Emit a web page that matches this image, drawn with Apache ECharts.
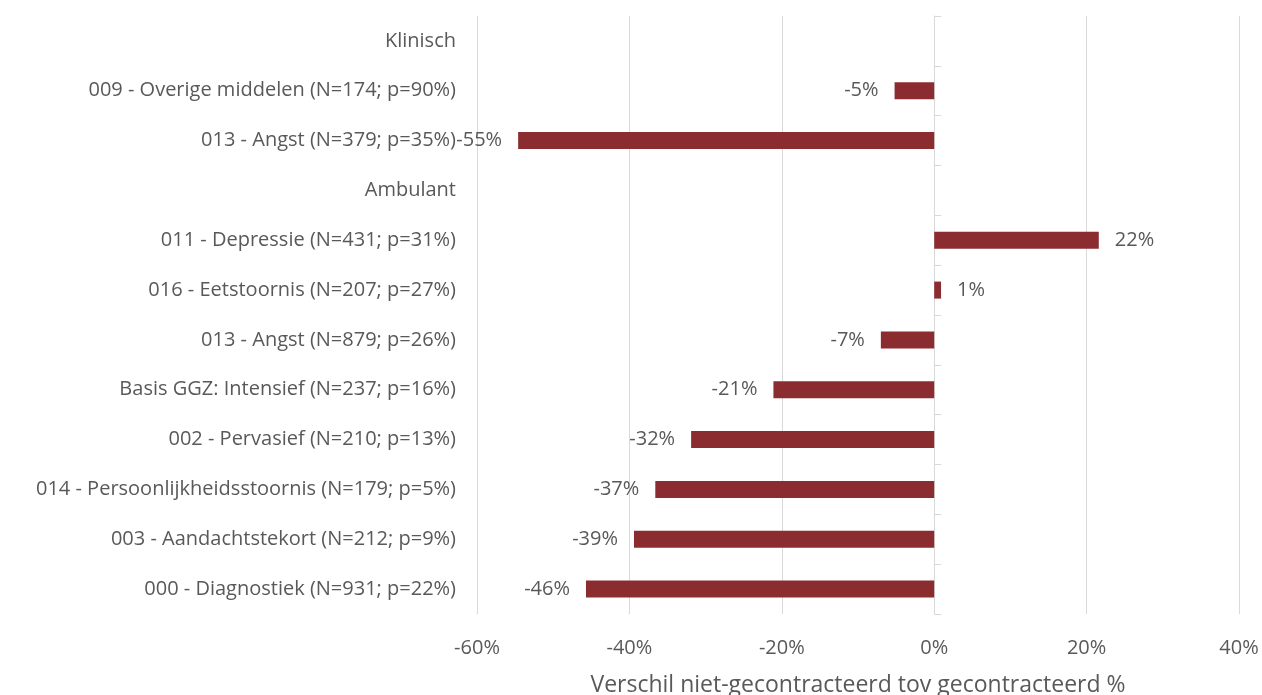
<!DOCTYPE html>
<html>
<head>
<meta charset="UTF-8">
<title>Verschil niet-gecontracteerd tov gecontracteerd</title>
<script src="https://cdn.jsdelivr.net/npm/echarts@6/dist/echarts.min.js"></script>
<style>
 html,body{margin:0;padding:0;background:#fff;}
</style>
</head>
<body>
<div id="mainChart" style="width:1262px;height:695px;"></div>
<script type="text/javascript">
// categorieen van boven naar beneden (kopjes zonder balk)
var categories = [
    'Klinisch',
    '009 - Overige middelen (N=174; p=90%)',
    '013 - Angst (N=379; p=35%)',
    'Ambulant',
    '011 - Depressie (N=431; p=31%)',
    '016 - Eetstoornis (N=207; p=27%)',
    '013 - Angst (N=879; p=26%)',
    'Basis GGZ: Intensief (N=237; p=16%)',
    '002 - Pervasief (N=210; p=13%)',
    '014 - Persoonlijkheidsstoornis (N=179; p=5%)',
    '003 - Aandachtstekort (N=212; p=9%)',
    '000 - Diagnostiek (N=931; p=22%)'
];
// verschil in procenten
var verschil = [null, -5.2, -54.6, null, 21.6, 0.9, -7.0, -21.1, -31.9, -36.6, -39.4, -45.7];
var xTicks = [-60, -40, -20, 0, 20, 40];

var textColor = '#595959';
var fontFam = '"Open Sans", "Liberation Sans", sans-serif';

// echarts tekent categorieen van onder naar boven
var yCats = categories.slice().reverse();
var yVals = verschil.slice().reverse().map(function (v) {
    if (v === null) return null;
    return {
        value: v,
        label: { position: v < 0 ? 'left' : 'right' }
    };
});

var myChart = echarts.init(document.getElementById('mainChart'));
var option = {
    animation: false,
    grid: { left: 477, right: 23, top: 16, bottom: 81, outerBoundsMode: 'none', containLabel: false },
    xAxis: {
        type: 'value',
        min: xTicks[0],
        max: xTicks[xTicks.length - 1],
        interval: 20,
        axisLine: { show: false },
        axisTick: { show: false },
        splitLine: { lineStyle: { color: '#d9d9d9', width: 1 } },
        axisLabel: {
            formatter: '{value}%',
            color: textColor,
            fontSize: 20,
            fontFamily: fontFam,
            margin: 24
        },
        name: 'Verschil niet-gecontracteerd tov gecontracteerd %',
        nameLocation: 'middle',
        nameGap: 60,
        nameTextStyle: { color: textColor, fontSize: 23, fontFamily: fontFam }
    },
    yAxis: [{
        type: 'category',
        data: yCats,
        axisLine: { show: false, onZero: false },
        axisTick: { show: false },
        axisLabel: {
            color: textColor,
            fontSize: 20,
            fontFamily: fontFam,
            margin: 21
        }
    }, {
        // nul-as met streepjes
        type: 'category',
        data: yCats,
        position: 'left',
        axisLine: { show: true, onZero: true, lineStyle: { color: '#d9d9d9' } },
        axisTick: { show: true, inside: true, length: 7, lineStyle: { color: '#d9d9d9' } },
        axisLabel: { show: false }
    }],
    series: [{
        type: 'bar',
        yAxisIndex: 0,
        barWidth: 17,
        data: yVals,
        itemStyle: { color: '#8b2c30' },
        label: {
            show: true,
            distance: 16,
            color: textColor,
            fontSize: 20,
            fontFamily: fontFam,
            formatter: function (p) { return Math.round(p.value) + '%'; }
        }
    }]
};
myChart.setOption(option);
</script>
</body>
</html>
